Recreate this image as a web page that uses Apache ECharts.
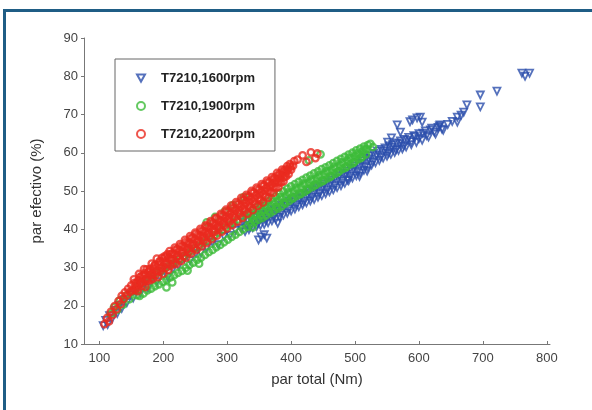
<!DOCTYPE html>
<html>
<head>
<meta charset="utf-8">
<script src="https://cdn.jsdelivr.net/npm/echarts@6/dist/echarts.min.js"></script>
<style>
  html, body { margin: 0; padding: 0; background: #fff; }
  #chart { width: 592px; height: 410px; }
</style>
</head>
<body>
<div id="chart"></div>
<script>
// legend names
var seriesNames = ['T7210,1600rpm', 'T7210,1900rpm', 'T7210,2200rpm'];
var xTicks = [100, 200, 300, 400, 500, 600, 700, 800];

// 1600 rpm (blue triangles) - [par total, par efectivo]
var rpm1600 = [
  [106,14.8],[110,16.2],[113,15.1],[116,17.4],[120,16.6],[124,18.8],[128,18.0],[131,20.1],[135,19.3],[139,21.6],
  [143,20.8],[148,22.9],[153,22.0],[158,24.1],[164,23.3],[170,25.8],[176,24.6],[182,27.0],[190,26.3],[198,28.9],
  [207,27.5],[215,29.6],[224,30.4],[233,32.3],[242,31.8],[251,33.7],[259,33.8],[268,35.1],[277,36.6],[286,36.0],
  [295,38.1],[304,38.4],[313,39.7],[322,40.2],
  [325,41.8],[328,39.4],[331,42.3],[334,39.9],[337,42.9],[340,40.4],[343,43.3],[346,40.7],[349,43.6],[352,41.0],
  [355,43.9],[358,41.3],[361,44.4],[364,41.7],[367,44.8],[370,42.2],[373,45.2],[376,42.6],[379,45.8],[382,43.1],
  [385,46.3],[388,43.7],[391,46.8],[394,44.2],[397,47.4],[400,44.8],[403,47.9],[406,45.3],[409,48.4],[412,45.9],
  [415,48.9],[418,46.4],[421,49.4],[424,46.9],[427,49.9],[430,47.4],[433,50.4],[436,47.8],[439,50.9],[442,48.4],
  [445,51.3],[448,48.8],[451,51.8],[454,49.3],[457,52.3],[460,49.8],[463,52.8],[466,50.3],[469,53.4],[472,50.9],
  [475,54.0],[478,51.4],[481,54.6],[484,52.0],[487,55.2],[490,52.7],[493,55.9],[496,53.4],[499,56.5],[502,54.0],
  [505,57.2],[508,54.7],[511,57.9],[514,55.4],[517,58.6],[520,56.1],[523,59.2],[526,56.8],[529,59.8],[532,57.4],
  [535,60.4],[538,58.0],[541,60.9],[544,58.6],[547,61.3],[550,59.1],[553,61.8],[556,59.6],[559,62.1],[562,60.1],
  [565,62.6],[568,60.6],[571,63.1],[574,61.0],[577,63.5],[580,61.5],[584,64.0],[588,62.1],[592,64.5],[596,62.7],
  [600,65.0],[605,63.3],[610,65.7],[615,64.1],[620,66.4],[626,64.9],[632,67.0],[638,65.9],
  [330,41.0],[336,40.6],[342,42.3],[348,41.5],[354,43.0],[360,42.3],[366,43.9],[372,43.2],[378,44.9],[384,44.2],
  [390,46.0],[396,45.3],[402,47.1],[408,46.3],[414,48.0],[420,47.3],[426,49.0],[432,48.3],[438,50.1],[444,49.3],
  [450,51.0],[456,50.3],[462,52.0],[468,51.4],[474,53.2],[480,52.5],[486,54.4],[492,53.8],[498,55.8],[504,55.1],
  [510,57.2],[516,56.4],[522,58.3],[528,57.7],[534,59.4],[540,58.9],[546,60.5],[552,59.9],[558,61.4],[564,60.8],
  [570,62.4],[576,61.8],[582,63.3],[588,62.9],[594,64.2],[600,63.7],[606,65.1],[612,64.5],[618,66.0],[624,65.4],
  [630,66.6],[636,66.2],
  [645,67.4],[652,68.2],[660,69.3],[660,68.0],[666,69.8],[670,70.6],[675,72.5],[696,75.1],[696,72.0],[722,76.1],
  [761,80.8],[766,80.0],[773,80.8],
  [551,62.8],[557,63.9],[566,67.3],[571,65.4],[586,68.1],[590,68.6],[597,69.1],[602,69.3],[605,68.0],[633,67.3],
  [349,37.2],[353,38.0],[358,38.6],[362,37.7],[379,41.6],[488,52.9],[507,53.8],[519,55.2]
];

// 1900 rpm (green circles)
var rpm1900 = [
  [118,17.8],[123,19.6],[128,18.9],[132,21.4],[137,20.3],[142,22.6],[147,21.7],[152,23.9],[158,22.8],
  [160,25.1],[163,22.6],[166,25.9],[169,23.2],[172,26.7],[175,24.0],[178,27.4],[181,24.5],[184,27.9],[187,25.1],
  [190,28.6],[193,25.6],[196,29.0],[199,26.3],[202,29.8],[205,26.8],[208,30.3],[211,27.4],[214,30.9],[217,28.0],
  [220,31.5],[223,28.6],[226,32.2],[229,29.1],[232,32.9],[235,29.9],[238,33.6],[241,30.7],[244,34.3],[247,31.3],
  [250,35.0],[253,32.0],[256,35.6],[259,32.6],[262,36.4],[265,33.3],[268,37.0],[271,34.0],[274,37.7],[277,34.6],
  [280,38.4],[283,35.3],[286,39.1],[289,35.9],[292,39.8],[295,36.6],[298,40.5],[301,37.3],[304,41.1],[307,38.0],
  [310,41.8],[313,38.6],[316,42.5],[319,39.3],[322,43.2],[325,40.0],[328,43.8],[331,40.6],[334,44.5],[337,41.3],
  [340,45.1],[343,41.9],[346,45.8],[349,42.5],[352,46.3],[355,43.0],[358,46.9],[361,43.6],[364,47.4],[367,44.2],
  [370,48.0],[373,44.8],[376,48.6],[379,45.4],[382,49.3],[385,46.0],[388,49.9],[391,46.7],[394,50.6],[397,47.4],
  [400,51.2],[403,48.1],[406,51.8],[409,48.7],[412,52.4],[415,49.2],[418,52.9],[421,49.8],[424,53.5],[427,50.5],
  [430,54.0],[433,51.0],[436,54.6],[439,51.6],[442,55.1],[445,52.2],[448,55.7],[451,52.7],[454,56.2],[457,53.3],
  [460,56.7],[463,53.9],[466,57.3],[469,54.5],[472,57.9],[475,55.1],[478,58.4],[481,55.8],[484,58.9],[487,56.4],
  [490,59.5],[493,57.0],[496,60.0],[499,57.6],[502,60.6],[505,58.3],[508,61.1],[511,58.9],[514,61.6],[517,59.6],
  [520,62.0],[524,62.3],[528,61.5],
  [332,42.6],[338,43.2],[344,43.8],[350,44.4],[356,44.9],[362,45.5],[368,46.1],[374,46.7],[380,47.4],[386,48.0],
  [392,48.7],[398,49.3],[404,49.9],[410,50.5],[416,51.0],[422,51.7],[428,52.2],[434,52.7],[440,53.3],[446,53.8],
  [452,54.4],[458,54.9],[464,55.5],[470,56.0],[476,56.7],[482,57.2],[488,57.9],[494,58.5],[500,59.1],[506,59.6],
  [512,60.3],[518,60.9],
  [335,43.9],[341,42.5],[347,45.0],[353,43.6],[359,46.1],[365,44.7],[371,47.2],[377,45.8],[383,48.4],[389,46.9],
  [395,49.6],[401,48.1],[407,50.8],[413,49.2],[419,51.9],[425,50.3],[431,53.0],[437,51.5],[443,54.1],[449,52.6],
  [455,55.2],[461,53.7],[467,56.3],[473,54.9],[479,57.5],[485,56.1],[491,58.7],[497,57.3],[503,59.8],[509,58.6],
  [515,60.9],
  [268,41.8],[281,43.2],[296,44.6],[309,46.3],[326,48.4],[428,58.0],[446,59.6],
  [205,24.8],[214,26.1],[238,29.2],[256,31.0],[340,40.5]
];

// 2200 rpm (red circles)
var rpm2200 = [
  [108,15.2],[112,16.8],[115,15.9],[118,18.4],[121,17.6],[124,19.9],[127,19.1],[130,21.2],[133,20.4],[135,22.6],
  [138,21.8],[140,23.5],[143,22.7],[145,24.4],[148,23.6],[150,25.3],[152,24.1],
  [154,26.9],[156,24.1],[158,26.0],[160,23.8],[162,28.3],[164,25.8],[166,27.8],[168,25.3],[170,29.6],[172,24.9],
  [174,29.5],[176,26.6],[178,28.9],[180,26.7],[182,31.0],[184,27.1],[186,30.4],[188,28.0],[190,32.3],[192,27.5],
  [194,31.6],[196,29.2],[198,32.5],[200,28.4],[202,32.9],[204,29.9],[206,33.4],[208,29.4],[210,34.3],[212,30.5],
  [214,33.6],[216,31.1],[218,35.2],[220,30.9],[222,34.8],[224,32.2],[226,36.1],[228,31.7],[230,35.5],[232,33.0],
  [234,37.2],[236,32.6],[238,36.3],[240,34.1],[242,38.2],[244,33.7],[246,37.8],[248,35.0],[250,39.1],[252,34.6],
  [254,38.4],[256,36.0],[258,40.1],[260,35.5],[262,39.5],[264,37.1],[266,41.0],[268,36.4],[270,40.6],[272,38.0],
  [274,42.1],[276,37.4],[278,41.5],[280,39.3],[282,43.0],[284,38.3],[286,42.4],[288,40.2],[290,44.0],[292,39.4],
  [294,43.5],[296,41.0],[298,45.1],[300,40.2],[302,44.6],[304,42.0],[306,46.2],[308,41.1],[310,45.4],[312,43.1],
  [314,47.1],[316,42.0],[318,46.5],[320,44.0],[322,48.2],[324,43.0],[326,47.6],[328,44.9],[330,49.0],[332,44.1],
  [334,48.5],[336,45.8],[338,50.0],[340,45.0],[342,49.6],[344,46.7],[346,50.9],[348,46.1],[350,50.3],[352,47.6],
  [354,51.8],[356,47.0],[358,51.5],[360,48.6],[362,52.7],[364,48.2],[366,52.3],[368,49.7],[370,53.6],[372,49.5],
  [374,53.4],[376,50.8],[378,54.7],[380,51.0],[382,54.5],[384,52.2],[386,55.6],[388,52.5],[390,55.5],[392,53.8],
  [394,56.5],[396,54.4],[398,57.0],[400,55.6],[403,56.6],
  [157,25.2],[161,26.6],[165,26.3],[169,27.9],[173,27.0],[177,28.9],[181,28.2],[185,29.8],[189,29.1],[193,30.6],
  [197,29.9],[201,31.6],[205,30.9],[209,32.6],[213,31.9],[217,33.5],[221,32.8],[225,34.5],[229,33.8],[233,35.4],
  [237,34.7],[241,36.4],[245,35.7],[249,37.4],[253,36.6],[257,38.3],[261,37.6],[265,39.3],[269,38.6],[273,40.3],
  [277,39.5],[281,41.2],[285,40.5],[289,42.1],[293,41.4],[297,43.1],[301,42.4],[305,44.1],[309,43.3],[313,45.0],
  [317,44.3],[321,46.0],[325,45.3],[329,46.9],[333,46.2],[337,47.9],[341,47.2],[345,48.9],[349,48.1],[353,49.8],
  [357,49.1],[361,50.8],[365,50.0],[369,51.7],[373,51.0],[377,53.0],[381,52.4],[385,54.1],[389,53.6],[393,55.2],
  [155,26.0],[159,24.6],[163,27.4],[167,26.1],[171,28.5],[175,27.1],[179,29.6],[183,28.3],[187,30.7],[191,29.0],
  [195,31.5],[199,30.1],[203,32.6],[207,31.0],[211,33.5],[215,32.1],[219,34.6],[223,33.0],[227,35.6],[231,34.1],
  [235,36.6],[239,35.0],[243,37.6],[247,36.1],[251,38.7],[255,37.0],[259,39.6],[263,38.1],[267,40.7],[271,39.1],
  [275,41.7],[279,40.1],[283,42.7],[287,41.1],[291,43.6],[295,42.1],[299,44.6],[303,43.1],[307,45.6],[311,44.1],
  [315,46.6],[319,45.0],[323,47.6],[327,46.1],[331,48.5],[335,47.0],[339,49.5],[343,48.0],[347,50.4],[351,49.0],
  [355,51.3],[359,50.0],[363,52.2],[367,51.0],[371,53.0],[375,52.2],[379,54.0],[383,53.3],[387,55.0],[391,54.6],
  [395,55.8],[399,56.3],
  [405,57.8],[410,58.2],[418,59.3],[424,57.6],[431,60.1],[438,58.6],[441,59.8]
];

var chart = echarts.init(document.getElementById('chart'));

function hollow(c, w) {
  return { color: 'rgba(0,0,0,0)', borderColor: c, borderWidth: w };
}

var option = {
  backgroundColor: '#fff',
  animation: false,
  textStyle: { fontFamily: 'Liberation Sans, Arial, sans-serif' },
  graphic: [
    { type: 'rect', shape: { x: 3, y: 9, width: 589, height: 3 }, style: { fill: '#1f5d85' } },
    { type: 'rect', shape: { x: 3, y: 9, width: 3, height: 401 }, style: { fill: '#1f5d85' } }
  ],
  grid: { left: 84, right: 42, top: 38, bottom: 66 },
  legend: {
    orient: 'vertical',
    left: 115, top: 59,
    padding: [12, 20, 10, 21],
    itemGap: 14,
    itemWidth: 8, itemHeight: 8,
    borderColor: '#666', borderWidth: 1,
    backgroundColor: '#fff',
    textStyle: { fontSize: 13, fontWeight: 'bold', color: '#222', lineHeight: 14, padding: [0, 0, 0, 11] },
    data: [
      { name: seriesNames[0], icon: 'path://M0,0L10,0L5,9Z' },
      { name: seriesNames[1] },
      { name: seriesNames[2] }
    ]
  },
  xAxis: {
    type: 'value', min: 76, max: 805,
    name: 'par total (Nm)', nameLocation: 'middle', nameGap: 28,
    nameTextStyle: { fontSize: 15, color: '#333' },
    axisLine: { lineStyle: { color: '#777' } },
    axisTick: { inside: true, length: 3, customValues: xTicks, lineStyle: { color: '#777' } },
    axisLabel: { customValues: xTicks, fontSize: 13, color: '#444', margin: 8 },
    splitLine: { show: false }
  },
  yAxis: {
    type: 'value', min: 10, max: 90, interval: 10,
    name: 'par efectivo (%)', nameLocation: 'middle', nameGap: 40,
    nameTextStyle: { fontSize: 15, color: '#333' },
    axisLine: { show: true, lineStyle: { color: '#777' } },
    axisTick: { show: true, length: 3, lineStyle: { color: '#777' } },
    axisLabel: { fontSize: 13, color: '#444', margin: 6 },
    splitLine: { show: false }
  },
  series: [
    { name: seriesNames[0], type: 'scatter', data: rpm1600, symbol: 'triangle', symbolRotate: 180,
      symbolSize: 7, itemStyle: hollow('#2a4dab', 1.8) },
    { name: seriesNames[1], type: 'scatter', data: rpm1900, symbol: 'circle',
      symbolSize: 6.5, itemStyle: hollow('#3dbb3a', 2.3) },
    { name: seriesNames[2], type: 'scatter', data: rpm2200, symbol: 'circle',
      symbolSize: 6.5, itemStyle: hollow('#ea2a1f', 2.3) }
  ]
};

chart.setOption(option);
</script>
</body>
</html>
